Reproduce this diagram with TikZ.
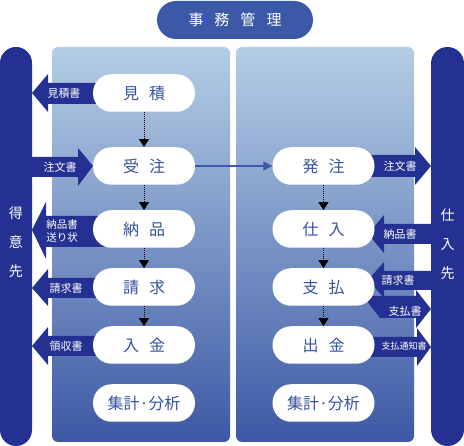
\documentclass[tikz,border=0pt]{standalone}
\usepackage{fontspec}
\setmainfont{Noto Sans CJK JP}
\usetikzlibrary{arrows.meta}
\definecolor{navy}{HTML}{243192}
\definecolor{titleblue}{HTML}{3B59A7}
\definecolor{txtblue}{HTML}{3652A1}
\definecolor{ptop}{HTML}{B4CEE5}
\definecolor{pbot}{HTML}{3E59A5}
\definecolor{linkblue}{HTML}{3A5AA8}
\tikzset{
  pill/.style={fill=white, rounded corners=18.5pt, minimum width=102pt, minimum height=37.5pt, inner sep=0pt, text=txtblue, font=\fontsize{16}{16}\selectfont},
  lbl/.style={text=white, inner sep=0pt, font=\fontsize{11}{11}\selectfont},
  barlbl/.style={text=white, inner sep=0pt, align=center, font=\fontsize{14}{29}\selectfont},
  flow/.style={dash pattern=on 1pt off 1pt, line width=1pt, black, -{Triangle[width=10pt,length=8pt]}},
  blk/.style={fill=navy},
  panel/.style={top color=ptop, bottom color=pbot, rounded corners=6pt}
}
\begin{document}
\begin{tikzpicture}[x=1pt,y=-1pt]
\useasboundingbox (0,0) rectangle (464,446);
% title
\node[fill=titleblue, rounded corners=19pt, minimum width=156pt, minimum height=38pt, inner sep=0pt, text=white, font=\fontsize{15}{15}\selectfont] (title) at (235,20) {事\hspace{11pt}務\hspace{11pt}管\hspace{11pt}理};
% bars
\fill[navy, rounded corners=16pt] (0,47) rectangle (32,446);
\fill[navy, rounded corners=16.5pt] (431,47) rectangle (464,446);
\node[barlbl] (tokui) at (16,242) {得\\意\\先};
\node[barlbl] (shiire2) at (447.5,244) {仕\\入\\先};
% panels
\shade[panel] (52,47) rectangle (230,442);
\shade[panel] (236,47) rectangle (414,442);
% block arrows left
\fill[blk] (32,93) -- (48,74) -- (48,83) -- (110,83) -- (110,104) -- (48,104) -- (48,112) -- cycle;
\fill[blk] (93,166) -- (78,148) -- (78,157) -- (30,157) -- (30,177) -- (78,177) -- (78,186) -- cycle;
\fill[blk] (32,230) -- (46,202) -- (46,216) -- (110,216) -- (110,247) -- (46,247) -- (46,259) -- cycle;
\fill[blk] (32,288) -- (48,269) -- (48,278) -- (110,278) -- (110,298) -- (48,298) -- (48,306) -- cycle;
\fill[blk] (32,346) -- (48,327) -- (48,336) -- (110,336) -- (110,356) -- (48,356) -- (48,365) -- cycle;
% block arrows right
\fill[blk] (360,155) -- (415,155) -- (415,147) -- (431,166) -- (415,185) -- (415,177) -- (360,177) -- cycle;
\fill[blk] (368,234) -- (384,215) -- (384,224) -- (434,224) -- (434,244) -- (384,244) -- (384,253) -- cycle;
\fill[blk] (368,280) -- (384,262) -- (384,271) -- (434,271) -- (434,290) -- (384,290) -- (384,298) -- cycle;
\fill[blk] (363,296) -- (416,296) -- (416,290) -- (431,309) -- (416,328) -- (416,318) -- (380,318) -- cycle;
\fill[blk] (360,337) -- (417,337) -- (417,328) -- (431,347) -- (417,366) -- (417,357) -- (360,357) -- cycle;
% pills
\node[pill] (mitsumori) at (144,93) {見\hspace{10pt}積};
\node[pill] (juchu) at (144,166) {受\hspace{10pt}注};
\node[pill] (nohin) at (144,229) {納\hspace{10pt}品};
\node[pill] (seikyu) at (144,287) {請\hspace{10pt}求};
\node[pill] (nyukin) at (144,345) {入\hspace{10pt}金};
\node[pill] (shukeiL) at (144,403) {集計·分析};
\node[pill] (hatchu) at (323.5,166) {発\hspace{10pt}注};
\node[pill] (shiire) at (323.5,229) {仕\hspace{10pt}入};
\node[pill] (shiharai) at (323.5,287) {支\hspace{10pt}払};
\node[pill] (shukkin) at (323.5,345) {出\hspace{10pt}金};
\node[pill] (shukeiR) at (323.5,403) {集計·分析};
% flows
\draw[flow] (mitsumori) -- (juchu);
\draw[flow] (juchu) -- (nohin);
\draw[flow] (nohin) -- (seikyu);
\draw[flow] (seikyu) -- (nyukin);
\draw[flow] (hatchu) -- (shiire);
\draw[flow] (shiire) -- (shiharai);
\draw[flow] (shiharai) -- (shukkin);
\draw[linkblue, line width=1.3pt, -{Triangle[width=9pt,length=9pt]}] (juchu) -- (hatchu);
% arrow labels
\node[lbl] (l1) at (64,93) {見積書};
\node[lbl] (l2) at (60,167) {注文書};
\node[lbl, align=center, font=\fontsize{10.5}{13.5}\selectfont] (l3) at (62,231) {納品書\\送り状};
\node[lbl] (l4) at (66,288) {請求書};
\node[lbl] (l5) at (66,346) {領収書};
\node[lbl] (r1) at (400,166) {注文書};
\node[lbl] (r2) at (400,234) {納品書};
\node[lbl] (r3) at (398,280) {請求書};
\node[lbl] (r4) at (405,311) {支払書};
\node[lbl, font=\fontsize{9}{9}\selectfont] (r5) at (404,346) {支払通知書};
\end{tikzpicture}
\end{document}
